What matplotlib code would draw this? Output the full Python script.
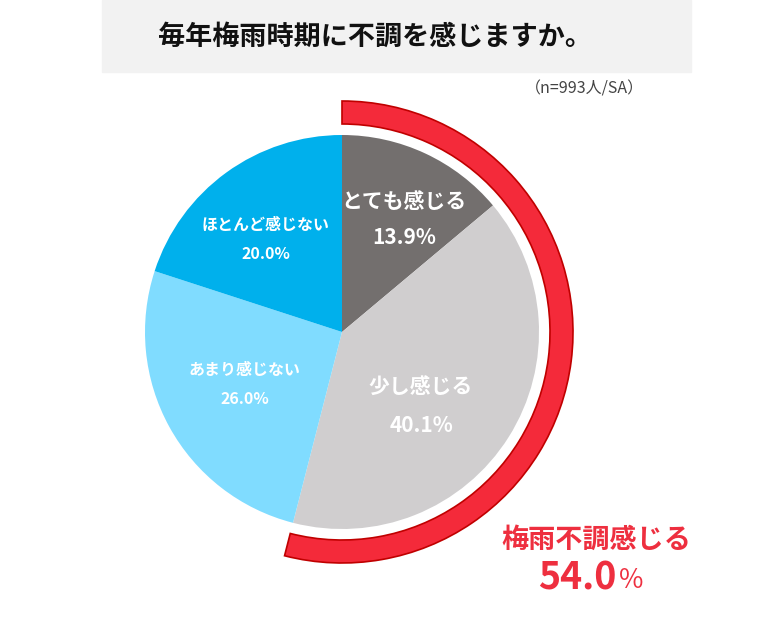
import matplotlib
matplotlib.use('Agg')
import matplotlib.pyplot as plt
from matplotlib.patches import Rectangle, Wedge

plt.rcParams['font.family'] = ['Noto Sans CJK JP', 'DejaVu Sans']

title = '毎年梅雨時期に不調を感じますか。'
note = '（n=993人/SA）'
labels = ['とても感じる', '少し感じる', 'あまり感じない', 'ほとんど感じない']
values = [13.9, 40.1, 26.0, 20.0]
colors = ['#736f6e', '#d0cecf', '#80dcff', '#00b0ec']
group_label = '梅雨不調感じる'
group_value = values[0] + values[1]

W, H = 780, 624
fig = plt.figure(figsize=(W / 100, H / 100), dpi=100)
ax = fig.add_axes([0, 0, 1, 1])

def py(y):
    # pixel row from top -> data y
    return H - y

cx, cy, r = 342, py(332), 197
wedges, _ = ax.pie(values, colors=colors, startangle=90, counterclock=False,
                   center=(cx, cy), radius=r, frame=True,
                   wedgeprops=dict(linewidth=0))
ax.set_xlim(0, W)
ax.set_ylim(0, H)
ax.set_aspect('equal')
ax.axis('off')

# title box
ax.add_patch(Rectangle((102, py(72)), 589, 72, color='#f2f2f2', zorder=0))
ax.text(375, py(37), title, ha='center', va='center', fontsize=19.5,
        fontweight='bold', color='#111111')
ax.text(584, py(89), note, ha='center', va='center', fontsize=11.5, color='#444444')

# red arc for the combined group
span = group_value / 100 * 360
ax.add_patch(Wedge((cx, cy), 231, 90 - span, 90, width=23,
                   facecolor='#f42a3a', edgecolor='#c00000', linewidth=1.2, zorder=3))

# slice labels
label_pos = [(404, 201, 237), (421, 387, 426), (245, 370, 399), (266, 225, 254)]
label_size = [15, 15, 11.5, 11.5]
for lab, v, (x, y1, y2), fs in zip(labels, values, label_pos, label_size):
    ax.text(x, py(y1), lab, ha='center', va='center', fontsize=fs,
            fontweight='bold', color='white', zorder=4)
    ax.text(x, py(y2), f'{v:.1f}%', ha='center', va='center', fontsize=fs,
            fontweight='bold', color='white', zorder=4)

red = '#ee2f3f'
ax.text(596, py(540), group_label, ha='center', va='center', fontsize=19.5,
        fontweight='bold', color=red)
ax.text(616, py(578), f'{group_value:.1f}', ha='right', va='center', fontsize=27,
        fontweight='bold', color=red)
ax.text(618, py(581), '％', ha='left', va='center', fontsize=19, color=red)

fig.savefig('out.png', dpi=100)
